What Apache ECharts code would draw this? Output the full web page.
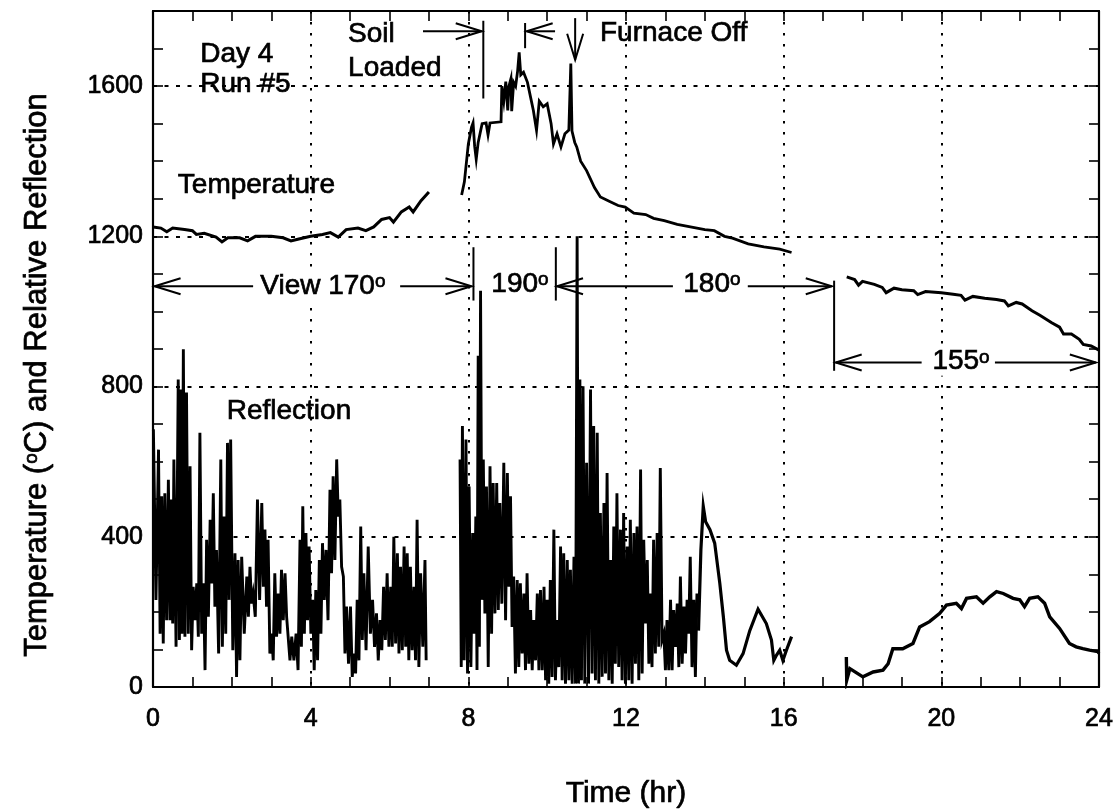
<!DOCTYPE html>
<html>
<head>
<meta charset="utf-8">
<script src="https://cdn.jsdelivr.net/npm/echarts/dist/echarts.min.js"></script>
<style>
html, body { margin: 0; padding: 0; background: #fff; }
#main { width: 1115px; height: 811px; }
</style>
</head>
<body>
<div id="main"></div>
<script>
var FONT = '"Liberation Sans", Arial, Helvetica, sans-serif';

// temperature (deg C) vs time (hr), three recorded stretches
var tempA = [[0,1225],[0.2,1222],[0.35,1212],[0.5,1222],[0.8,1218],[1.0,1215],[1.1,1205],[1.3,1208],[1.6,1198],[1.75,1185],[1.9,1196],[2.2,1196],[2.4,1188],[2.6,1200],[3.0,1200],[3.3,1196],[3.5,1188],[3.7,1193],[4.0,1200],[4.3,1205],[4.5,1210],[4.7,1198],[4.9,1218],[5.2,1222],[5.4,1215],[5.6,1225],[5.8,1245],[6.0,1250],[6.1,1238],[6.3,1265],[6.5,1278],[6.6,1265],[6.8,1295],[7.0,1318]];
var tempB = [[7.83,1310],[7.9,1345],[8.0,1446],[8.08,1490],[8.12,1502],[8.16,1440],[8.2,1405],[8.25,1450],[8.3,1475],[8.35,1500],[8.45,1502],[8.5,1470],[8.55,1502],[8.83,1505],[8.85,1600],[8.9,1560],[8.95,1612],[9.0,1535],[9.03,1600],[9.08,1620],[9.1,1533],[9.15,1610],[9.2,1600],[9.25,1640],[9.29,1690],[9.33,1630],[9.4,1637],[9.5,1610],[9.6,1560],[9.65,1535],[9.73,1482],[9.8,1560],[9.9,1545],[10.0,1553],[10.1,1500],[10.16,1446],[10.25,1473],[10.35,1438],[10.45,1473],[10.55,1483],[10.6,1660],[10.63,1480],[10.7,1450],[10.75,1438],[10.85,1400],[11.0,1375],[11.2,1330],[11.35,1305],[11.6,1292],[11.8,1282],[11.98,1278],[12.2,1262],[12.5,1258],[12.7,1248],[12.97,1242],[13.3,1232],[13.6,1226],[14.0,1218],[14.24,1215],[14.5,1200],[14.7,1195],[15.1,1180],[15.5,1172],[15.9,1166],[16.2,1157]];
var tempC = [[17.6,1092],[17.8,1085],[17.9,1070],[18.0,1080],[18.3,1072],[18.5,1064],[18.6,1050],[18.8,1062],[19.0,1058],[19.3,1055],[19.4,1045],[19.6,1053],[20.0,1050],[20.3,1046],[20.5,1043],[20.6,1030],[20.8,1040],[21.1,1035],[21.4,1032],[21.6,1028],[21.7,1015],[21.9,1024],[22.05,1020],[22.3,1002],[22.5,990],[22.8,970],[23.0,958],[23.1,940],[23.3,940],[23.5,926],[23.6,912],[23.8,908],[24,897]];

// reflection, noisy part 1: sample times with upper and lower swing
var reflTimeA = [0.01,0.14,0.22,0.30,0.39,0.47,0.53,0.64,0.70,0.77,0.85,0.94,1.02,1.11,1.19,1.28,1.36,1.45,1.53,1.61,1.72,1.80,1.89,1.97,2.08,2.16,2.25,2.38,2.46,2.54,2.65,2.76,2.84,2.92,3.01,3.09,3.18,3.26,3.35,3.43,3.52,3.63,3.73,3.80,3.88,3.96,4.05,4.13,4.22,4.30,4.39,4.49,4.57,4.66,4.74,4.83,4.91,5.01,5.10,5.18,5.27,5.35,5.46,5.57,5.67,5.76,5.85,5.94,6.03,6.11,6.20,6.28,6.37,6.45,6.53,6.62,6.70,6.79,6.90];
var reflHighA = [686,632,508,516,552,499,606,819,792,899,784,588,267,276,677,276,392,445,516,365,606,454,650,659,356,338,347,294,320,249,499,490,419,392,142,303,249,312,303,187,134,142,392,481,410,374,232,258,338,383,365,525,561,606,499,294,214,214,89,232,427,303,374,232,196,178,267,303,267,400,356,320,374,356,320,267,445,303,338];
var reflLowA = [232,142,116,178,178,169,107,125,142,134,142,98,178,134,142,45,187,276,214,89,107,142,232,98,27,71,142,187,222,187,232,267,214,89,71,134,142,178,187,71,71,45,107,142,178,142,45,71,142,232,178,303,338,454,320,89,62,27,36,71,125,98,142,107,71,98,125,107,107,116,89,98,107,71,98,71,53,107,71];

// reflection, noisy part 2
var reflTimeB = [7.79,7.85,7.94,8.02,8.11,8.19,8.25,8.31,8.38,8.46,8.55,8.63,8.72,8.80,8.90,8.99,9.07,9.15,9.24,9.32,9.41,9.49,9.58,9.66,9.75,9.83,9.92,10.00,10.08,10.17,10.25,10.34,10.42,10.51,10.59,10.68,10.76,10.83,10.91,11.00,11.10,11.18,11.27,11.35,11.44,11.52,11.61,11.69,11.77,11.86,11.94,12.03,12.11,12.20,12.28,12.37,12.45,12.54,12.62,12.70,12.79,12.87,12.96,13.04,13.13,13.21,13.30,13.38,13.47,13.55,13.63,13.72,13.80];
var reflHighB = [606,695,659,534,410,454,882,1055,606,534,588,543,543,490,597,570,508,294,285,276,249,303,205,178,249,258,267,232,285,419,178,374,356,338,312,347,1200,819,801,597,792,695,677,463,490,570,338,427,516,419,463,374,445,410,427,579,392,338,249,392,410,583,142,178,232,205,222,294,214,232,347,232,249];
var reflLowB = [53,71,36,53,142,45,107,232,196,53,142,196,205,222,178,267,160,36,53,89,45,62,45,71,45,45,18,9,27,18,53,18,9,18,9,9,9,18,9,9,36,18,9,27,36,18,9,62,53,18,9,18,9,62,18,36,169,62,53,89,107,125,45,45,45,107,53,62,89,142,53,27,187];

// reflection, smooth stretches
var reflC = [[13.84,150],[13.9,365],[13.96,481],[14.02,440],[14.13,419],[14.25,383],[14.38,276],[14.47,187],[14.55,98],[14.63,71],[14.8,58],[14.97,89],[15.14,150],[15.35,207],[15.56,169],[15.69,125],[15.75,71],[15.82,85],[15.9,98],[15.98,71],[16.07,98],[16.2,134]];
var reflD = [[17.59,80],[17.6,18],[17.68,49],[18.01,27],[18.27,40],[18.52,45],[18.65,62],[18.77,102],[19.02,102],[19.28,116],[19.45,160],[19.7,174],[19.96,196],[20.13,218],[20.38,223],[20.51,209],[20.64,236],[20.89,240],[21.06,223],[21.23,240],[21.4,254],[21.57,249],[21.82,236],[21.99,232],[22.11,214],[22.24,236],[22.45,240],[22.62,223],[22.75,187],[23.0,156],[23.25,116],[23.42,107],[23.59,102],[23.76,98],[23.97,94],[24,90]];

// annotations (time, value)
var noteText = ['Day 4', 'Run #5', 'Soil', 'Loaded', 'Furnace Off', 'Temperature', 'Reflection',
                'View 170{o|o}', '190{o|o}', '180{o|o}', '155{o|o}'];
var notePos = [[1.2,1685],[1.2,1605],[4.95,1738],[4.95,1647],[11.34,1741],[0.63,1335],[1.87,735],
               [4.31,1068],[9.31,1073],[14.18,1073],[20.5,866]];
var noteAlign = ['left','left','left','left','left','left','left','center','center','center','center'];

// horizontal arrows: from, to, level, head at start, head at end
var hArrows = [
  [6.85, 8.34, 1746, 0, 1],
  [9.48, 10.2, 1746, 1, 0],
  [0.04, 2.54, 1067, 1, 0],
  [6.27, 8.08, 1067, 0, 1],
  [10.25, 13.19, 1067, 1, 0],
  [15.09, 17.22, 1067, 0, 1],
  [17.32, 19.5, 864, 1, 0],
  [21.36, 23.92, 864, 0, 1]
];
// vertical bars: time, top, bottom, head at bottom
var vBars = [
  [8.38, 1774, 1567, 0],
  [9.44, 1768, 1701, 0],
  [10.71, 1781, 1670, 1],
  [8.13, 1171, 1029, 0],
  [10.22, 1171, 1029, 0],
  [17.28, 1082, 842, 0]
];

function zigzag(t, hi, lo) {
  var out = [];
  for (var i = 0; i < t.length; i++) {
    out.push([t[i], hi[i]]);
    var next = i < t.length - 1 ? t[i + 1] : t[i] + 0.06;
    out.push([(t[i] + next) / 2, lo[i]]);
  }
  return out;
}

function line(data, w) {
  return {
    type: 'line', data: data, showSymbol: false, symbol: 'none',
    lineStyle: { color: '#000', width: w, join: 'miter' }, itemStyle: { color: '#000' },
    sampling: 'none', animation: false, silent: true, z: 3
  };
}

var ARW = '#000';
function chevron(x, y, dir) {
  var L = 26, W = 8, pts;
  if (dir === 'left') pts = [[x + L, y - W], [x, y], [x + L, y + W]];
  else if (dir === 'right') pts = [[x - L, y - W], [x, y], [x - L, y + W]];
  else pts = [[x - W, y - L], [x, y], [x + W, y - L]];
  return { type: 'polyline', shape: { points: pts }, style: { stroke: ARW, lineWidth: 2, fill: 'none' } };
}

// thin outline to thicken the text a little, like the scanned original
var ink = { textBorderColor: '#000', textBorderWidth: 0.7 };
var tickText = Object.assign({ color: '#000', fontFamily: FONT, fontSize: 25 }, ink);
var solidLine = { show: true, onZero: false, lineStyle: { color: '#000', width: 2.2 } };
var inTick = { show: true, inside: true, length: 10, lineStyle: { color: '#000', width: 1.6 } };

var chart = echarts.init(document.getElementById('main'));
chart.setOption({
  animation: false,
  backgroundColor: '#fff',
  grid: { left: 153, right: 16, top: 11, bottom: 124, containLabel: false, outerBoundsMode: 'none' },
  xAxis: [
    {
      type: 'value', position: 'bottom', min: 0, max: 24, interval: 1,
      axisLine: solidLine, axisTick: inTick, splitLine: { show: false },
      axisLabel: Object.assign({ margin: 20, formatter: function (v) { return v % 4 === 0 ? String(v) : ''; } }, tickText),
      name: 'Time (hr)', nameLocation: 'middle', nameGap: 92,
      nameTextStyle: Object.assign({ color: '#000', fontFamily: FONT, fontSize: 30 }, ink)
    },
    {
      type: 'value', position: 'top', min: 0, max: 24, interval: 1,
      axisLine: solidLine, axisTick: inTick, axisLabel: { show: false }, splitLine: { show: false }
    },
    {
      type: 'value', position: 'bottom', min: 0, max: 24, interval: 4,
      axisLine: { show: false, onZero: false }, axisTick: { show: false }, axisLabel: { show: false },
      splitLine: { show: true, lineStyle: { color: '#000', width: 2, type: [2.5, 8.5] } }
    }
  ],
  yAxis: [
    {
      type: 'value', position: 'left', min: 0, max: 1800, interval: 100,
      axisLine: solidLine, axisTick: inTick, splitLine: { show: false },
      axisLabel: Object.assign({ margin: 10, formatter: function (v) { return v % 400 === 0 ? String(v) : ''; } }, tickText),
      name: 'Temperature ({o|o}C) and Relative Reflection', nameLocation: 'middle', nameGap: 100,
      nameTextStyle: Object.assign({ color: '#000', fontFamily: FONT, fontSize: 31, padding: [0, 52, 0, 0],
        rich: { o: Object.assign({ fontSize: 19, fontFamily: FONT, color: '#000', verticalAlign: 'top' }, ink) } }, ink)
    },
    {
      type: 'value', position: 'right', min: 0, max: 1800, interval: 100,
      axisLine: solidLine, axisTick: inTick, axisLabel: { show: false }, splitLine: { show: false }
    },
    {
      type: 'value', position: 'left', min: 0, max: 1800, interval: 400,
      axisLine: { show: false, onZero: false }, axisTick: { show: false }, axisLabel: { show: false },
      splitLine: { show: true, lineStyle: { color: '#000', width: 2, type: [4, 7.5] } }
    }
  ],
  series: [
    line(tempA, 3), line(tempB, 2.8), line(tempC, 3),
    line(zigzag(reflTimeA, reflHighA, reflLowA), 2.9),
    line(zigzag(reflTimeB, reflHighB, reflLowB), 2.9),
    line(reflC, 3.2), line(reflD, 3.4),
    {
      type: 'custom', data: hArrows, silent: true, z: 10,
      renderItem: function (params, api) {
        var a = api.coord([api.value(0), api.value(2)]);
        var b = api.coord([api.value(1), api.value(2)]);
        var kids = [{ type: 'line', shape: { x1: a[0], y1: a[1], x2: b[0], y2: b[1] }, style: { stroke: ARW, lineWidth: 2 } }];
        if (api.value(3)) kids.push(chevron(a[0], a[1], 'left'));
        if (api.value(4)) kids.push(chevron(b[0], b[1], 'right'));
        return { type: 'group', children: kids };
      }
    },
    {
      type: 'custom', data: vBars, silent: true, z: 10,
      renderItem: function (params, api) {
        var a = api.coord([api.value(0), api.value(1)]);
        var b = api.coord([api.value(0), api.value(2)]);
        var kids = [{ type: 'line', shape: { x1: a[0], y1: a[1], x2: b[0], y2: b[1] }, style: { stroke: ARW, lineWidth: 2 } }];
        if (api.value(3)) kids.push(chevron(b[0], b[1], 'down'));
        return { type: 'group', children: kids };
      }
    },
    {
      type: 'custom', data: notePos, silent: true, z: 11,
      renderItem: function (params, api) {
        var p = api.coord([api.value(0), api.value(1)]);
        return {
          type: 'text', x: p[0], y: p[1],
          style: {
            text: noteText[params.dataIndex], fill: '#000', fontFamily: FONT, fontSize: 28,
            stroke: '#000', lineWidth: 0.7,
            align: noteAlign[params.dataIndex], verticalAlign: 'middle',
            backgroundColor: noteAlign[params.dataIndex] === 'center' ? '#fff' : null,
            rich: { o: { fontSize: 19, fontFamily: FONT, fill: '#000', stroke: '#000', lineWidth: 0.7, verticalAlign: 'top' } }
          }
        };
      }
    }
  ]
});
</script>
</body>
</html>
